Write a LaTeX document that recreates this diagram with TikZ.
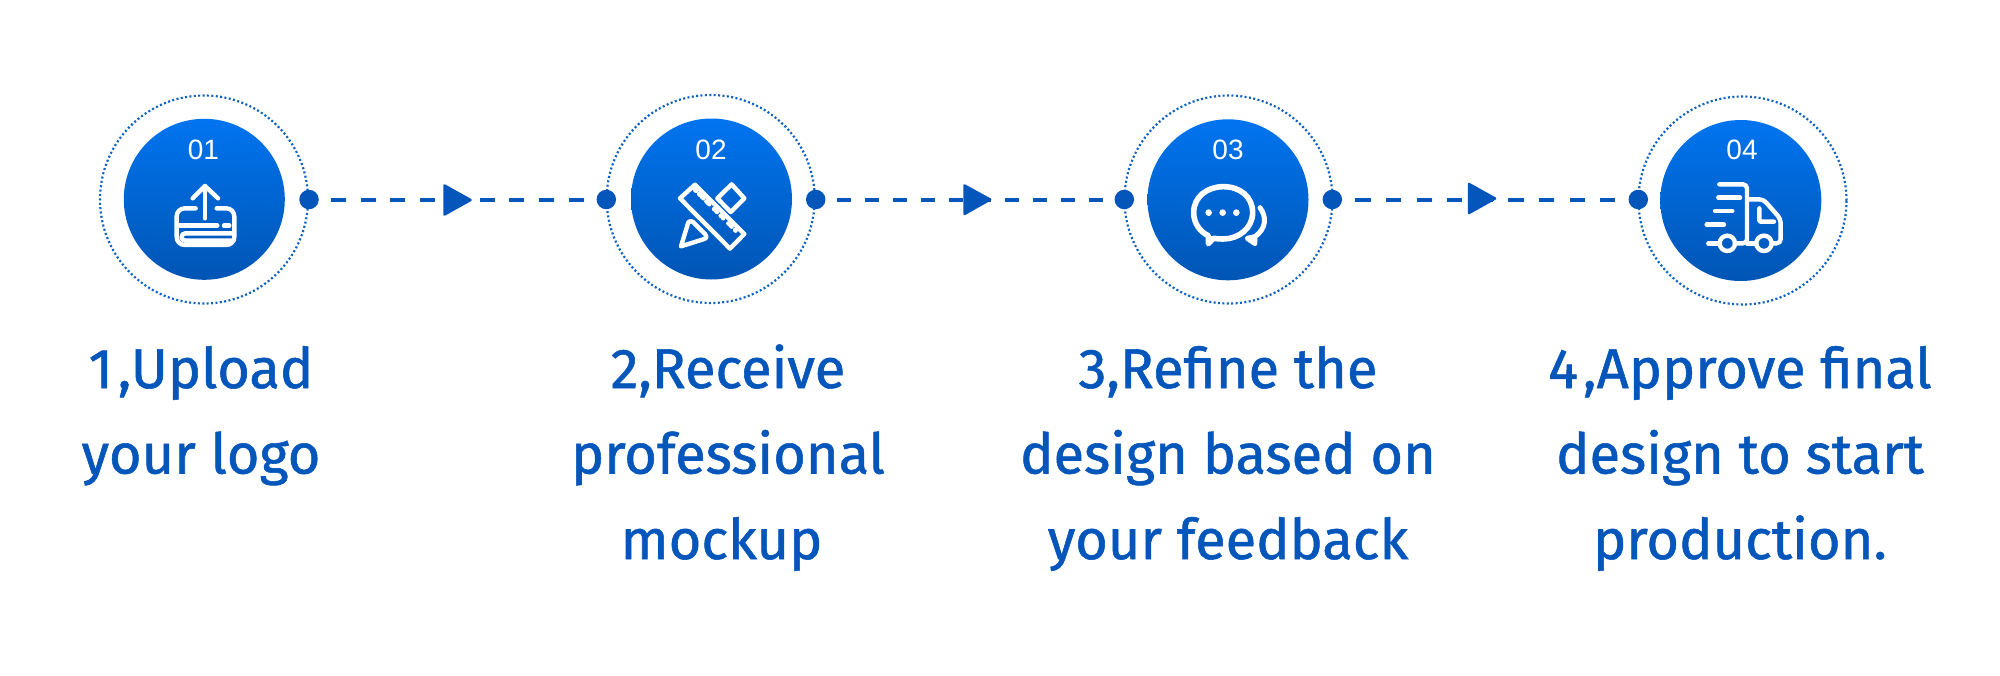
\documentclass[tikz,border=0pt]{standalone}
\usepackage{fontspec}
\setmainfont{Fira Sans}[FakeBold=1]
\newfontfamily\numfont{Liberation Sans}
\definecolor{brandblue}{HTML}{0556BB}
\definecolor{gradtop}{HTML}{0074EF}
\definecolor{gradbot}{HTML}{0055B4}
\definecolor{ringblue}{HTML}{0F62C4}
\begin{document}
\begin{tikzpicture}[x=1pt,y=-1pt,
  disc/.style={circle,minimum size=161pt,inner sep=0pt,top color=gradtop,bottom color=gradbot},
  ringc/.style={circle,minimum size=208pt,inner sep=0pt,draw=ringblue,line width=2.2pt,dash pattern=on 2pt off 2.4pt},
  dotn/.style={circle,minimum size=19.5pt,inner sep=0pt,fill=brandblue},
  tri/.style={fill=brandblue,draw=brandblue,line width=2.5pt,line join=round},
  conn/.style={draw=brandblue,line width=4pt},
  num/.style={text=white,font=\numfont\fontsize{28}{28}\selectfont,inner sep=0pt},
  label/.style={text=brandblue,align=center,font=\fontsize{56}{85.5}\selectfont,inner sep=0pt,anchor=base},
  ico/.style={draw=white,line width=4.4pt,line cap=round,line join=round}]
\useasboundingbox (0,0) rectangle (2000,675);
\fill[white] (0,0) rectangle (2000,675);
% rings and discs
\node[ringc] (r1) at (204,199.5) {};
\node[disc] (c1) at (204.3,199.3) {};
\node[ringc] (r2) at (710.7,199) {};
\node[disc] (c2) at (711.5,199) {};
\node[ringc] (r3) at (1228.5,199.5) {};
\node[disc] (c3) at (1228,199.8) {};
\node[ringc] (r4) at (1742.5,200.5) {};
\node[disc] (c4) at (1740.8,200.5) {};
% dots
\node[dotn] (d1r) at (309,199.5) {};
\node[dotn] (d2l) at (606.3,199.5) {};
\node[dotn] (d2r) at (815.7,199.5) {};
\node[dotn] (d3l) at (1124.3,199.5) {};
\node[dotn] (d3r) at (1332.3,199.5) {};
\node[dotn] (d4l) at (1638.3,199.5) {};
% connectors
\draw[conn,dash pattern=on 15pt off 14.7pt,dash phase=7.7pt] (d1r.center) -- (d2l.center);
\draw[conn,dash pattern=on 14.5pt off 13.5pt,dash phase=7pt] (d2r.center) -- (d3l.center);
\draw[conn,dash pattern=on 15.3pt off 15.3pt,dash phase=7.6pt] (d3r.center) -- (d4l.center);
% arrow triangles
\draw[tri] (444.5,185.5) -- (470.5,200) -- (444.5,214.5) -- cycle;
\draw[tri] (964.5,185.5) -- (990,199.5) -- (964.5,214) -- cycle;
\draw[tri] (1469,184) -- (1495,198.5) -- (1469,213) -- cycle;
% numbers
\node[num] (n1) at (203.5,150) {01};
\node[num] (n2) at (711,150) {02};
\node[num] (n3) at (1228,150) {03};
\node[num] (n4) at (1742,150) {04};
% icon 1
\begin{scope}[shift={(90,85)},x=0.3333pt,y=-0.3333pt]
\draw[ico] (345,303) -- (345,400);
\draw[ico] (308,340) -- (345,303) -- (384,340);
\draw[ico,rounded corners=8pt] (317,370) -- (260,370) -- (260,480) -- (433,480) -- (433,370) -- (380,370);
\draw[ico] (262,422) -- (382,422);
\draw[ico] (402,422) -- (418,422);
\draw[ico,rounded corners=3.5pt] (430,445) -- (275,445) -- (275,467) -- (430,467);
\end{scope}
% icon 2
\begin{scope}[shift={(590,85)},x=0.3333pt,y=-0.3333pt]
\draw[ico] (315,299) -- (270,340) -- (420,491) -- (463,447) -- cycle;
\foreach \ax/\ay/\bx/\by in {330,315,318,327, 352,336,340,349, 372,358,354,374, 393,379,381,392, 415,400,398,418, 437,422,425,435}
  \draw[ico] (\ax,\ay) -- (\bx,\by);
\draw[ico] (425,298) -- (382,340) -- (422,381) -- (463,340) -- cycle;
\draw[ico] (273,484) -- (295,412) .. controls (300,405) and (305,408) .. (310,412) -- (345,447) .. controls (352,455) and (350,460) .. (340,463) -- cycle;
\end{scope}
% icon 3
\begin{scope}[shift={(1110,85)},x=0.3333pt,y=-0.3333pt]
\draw[ico,line width=5.6pt] (295,476) -- (295,452) .. controls (268,440) and (251,412) .. (251,383) .. controls (251,335) and (292,305) .. (340,305) .. controls (390,305) and (428,335) .. (428,383) .. controls (428,430) and (385,462) .. (340,462) .. controls (328,462) and (318,461) .. (310,460) -- cycle;
\fill[white] (296,383) circle[radius=10];
\fill[white] (338,383) circle[radius=10];
\fill[white] (379,383) circle[radius=10];
\draw[ico,line width=5pt] (450,368) .. controls (470,395) and (470,430) .. (435,455) -- (435,476) -- (412,460) -- (435,455);
\end{scope}
% icon 4
\begin{scope}[shift={(1620,85)},x=0.3333pt,y=-0.3333pt]
\draw[ico,rounded corners=4pt] (298,298) -- (381,298) -- (381,475) -- (345,475);
\draw[ico] (381,475) -- (408,475);
\draw[ico,rounded corners=4pt] (384,343) -- (430,343) -- (482,402) -- (482,475) -- (455,475);
\draw[ico,rounded corners=1pt] (418,370) -- (418,410) -- (462,410);
\draw[ico] (295,338) -- (360,338);
\draw[ico] (285,378) -- (337,378);
\draw[ico] (260,419) -- (312,419);
\draw[ico] (265,476) -- (298,476);
\draw[ico] (322,475) circle[radius=23];
\draw[ico] (432,475) circle[radius=23];
\end{scope}
% labels
\node[label] (t1) at (201,473.5) {1\kern5pt,Upload\\your logo};
\node[label] (t2) at (728,559) {2,Receive\\professional\\mockup\hspace*{13pt}};
\node[label] (t3) at (1228,559) {3,Refine the\\design based on\\your feedback};
\node[label] (t4) at (1740,559) {4\kern5pt,Approve final\\design to start\\production.};
\end{tikzpicture}
\end{document}
